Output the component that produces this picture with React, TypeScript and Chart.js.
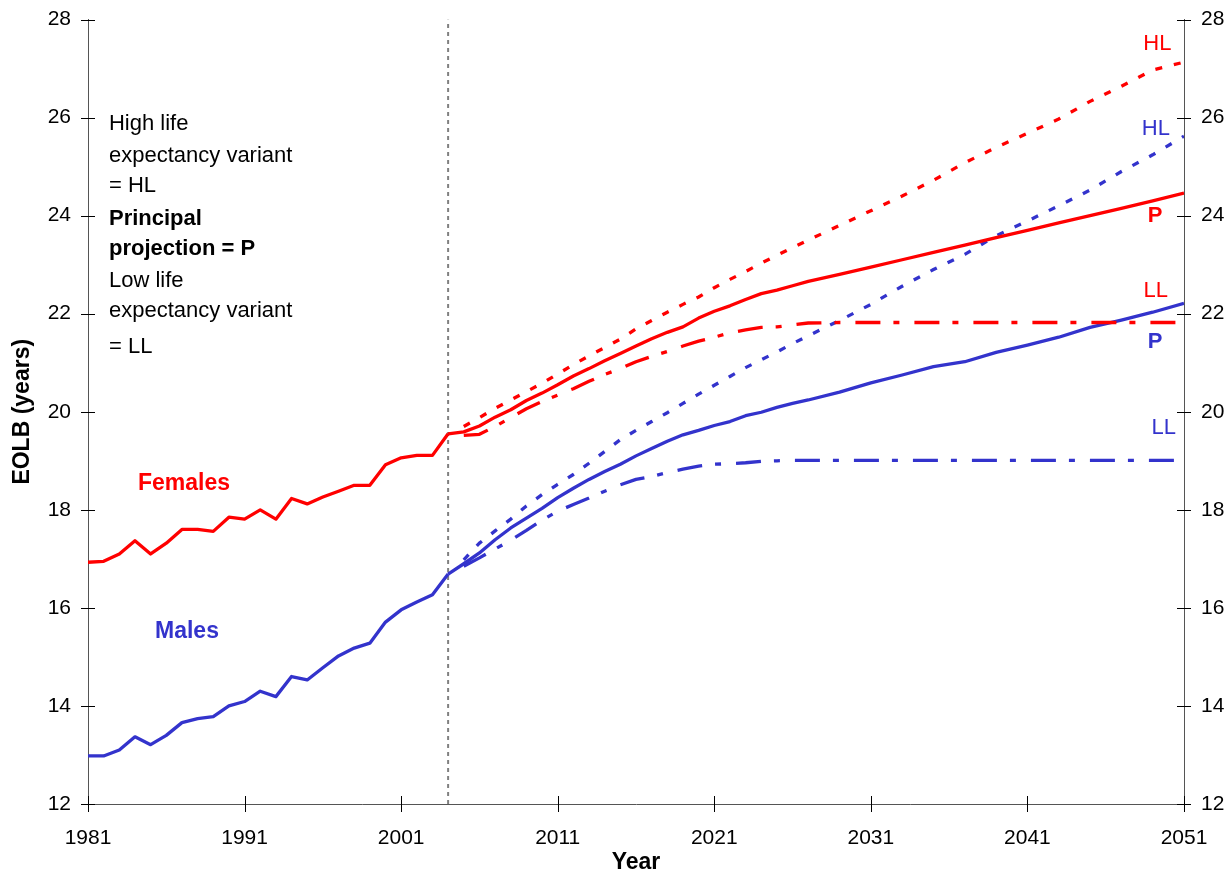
import React, { useEffect, useRef } from "react";
import { Chart, registerables } from "chart.js";

Chart.register(...registerables);

// ---------- data ----------
const HIST_YEARS = [
  1981, 1982, 1983, 1984, 1985, 1986, 1987, 1988, 1989, 1990, 1991, 1992,
  1993, 1994, 1995, 1996, 1997, 1998, 1999, 2000, 2001, 2002, 2003, 2004,
];
const FEMALES_HIST = [
  16.93, 16.95, 17.1, 17.37, 17.1, 17.32, 17.6, 17.6, 17.56, 17.85, 17.81, 18.0,
  17.81, 18.23, 18.12, 18.26, 18.38, 18.5, 18.5, 18.92, 19.06, 19.11, 19.11, 19.55,
];
const MALES_HIST = [
  12.98, 12.98, 13.1, 13.37, 13.21, 13.4, 13.66, 13.74, 13.78, 14.0, 14.09, 14.3,
  14.19, 14.6, 14.53, 14.78, 15.02, 15.18, 15.28, 15.71, 15.96, 16.12, 16.27, 16.69,
];

const PROJ_YEARS = [
  2004, 2005, 2006, 2007, 2008, 2009, 2010, 2011, 2012, 2013, 2014, 2015, 2016,
  2017, 2018, 2019, 2020, 2021, 2022, 2023, 2024, 2025, 2026, 2027, 2029, 2031,
  2033, 2035, 2037, 2039, 2041, 2043, 2045, 2047, 2049, 2051,
];
const FEMALES_P = [
  19.55, 19.59, 19.71, 19.89, 20.04, 20.23, 20.38, 20.55, 20.73, 20.88, 21.04, 21.19, 21.34,
  21.49, 21.62, 21.73, 21.91, 22.05, 22.16, 22.29, 22.41, 22.48, 22.57, 22.66, 22.8, 22.95,
  23.1, 23.25, 23.4, 23.55, 23.7, 23.85, 24.0, 24.15, 24.3, 24.46,
];
const FEMALES_HL = [
  null, 19.7, 19.88, 20.07, 20.24, 20.41, 20.58, 20.77, 20.96, 21.14, 21.31, 21.48, 21.69,
  21.86, 22.03, 22.19, 22.34, 22.53, 22.7, 22.86, 23.03, 23.19, 23.35, 23.5, 23.8, 24.1,
  24.4, 24.72, 25.08, 25.39, 25.68, 25.97, 26.33, 26.64, 26.97, 27.13,
];
const FEMALES_LL = [
  null, 19.52, 19.54, 19.7, 19.88, 20.06, 20.21, 20.34, 20.47, 20.62, 20.76, 20.88, 21.02,
  21.13, 21.23, 21.34, 21.44, 21.52, 21.61, 21.67, 21.72, 21.73, 21.77, 21.81, 21.82, 21.82,
  21.82, 21.82, 21.82, 21.82, 21.82, 21.82, 21.82, 21.82, 21.82, 21.82,
];
const MALES_P = [
  16.69, 16.9, 17.12, 17.39, 17.63, 17.83, 18.03, 18.25, 18.44, 18.62, 18.78, 18.93, 19.1,
  19.25, 19.4, 19.53, 19.62, 19.72, 19.8, 19.92, 19.99, 20.09, 20.17, 20.24, 20.4, 20.59,
  20.75, 20.92, 21.02, 21.21, 21.36, 21.52, 21.72, 21.87, 22.03, 22.21,
];
const MALES_HL = [
  null, 16.98, 17.32, 17.57, 17.81, 18.08, 18.31, 18.52, 18.72, 18.95, 19.19, 19.43, 19.62,
  19.8, 19.98, 20.17, 20.36, 20.54, 20.72, 20.9, 21.06, 21.22, 21.39, 21.55, 21.86, 22.19,
  22.56, 22.9, 23.21, 23.59, 23.89, 24.2, 24.52, 24.9, 25.24, 25.62,
];
const MALES_LL = [
  null, 16.85, 17.02, 17.2, 17.38, 17.58, 17.79, 17.97, 18.11, 18.24, 18.38, 18.51, 18.62,
  18.68, 18.76, 18.83, 18.89, 18.93, 18.94, 18.96, 18.99, 19.0, 19.01, 19.01, 19.01, 19.01,
  19.01, 19.01, 19.01, 19.01, 19.01, 19.01, 19.01, 19.01, 19.01, 19.01,
];

const BASE_YEAR = 2004;
const X_TICKS = [1981, 1991, 2001, 2011, 2021, 2031, 2041, 2051];
const X_MIN = 1981;
const X_MAX = 2051;
const Y_MIN = 12;
const Y_MAX = 28;
const Y_STEP = 2;

const X_TITLE = "Year";
const Y_TITLE = "EOLB (years)";

// ---------- styles ----------
const RED = "#FF0000";
const BLUE = "#3333CC";
const FONT = '"Liberation Sans", Arial, Helvetica, sans-serif';
const DASH_HL = [7, 12];
const DASH_LL = [25, 13, 6, 15];

const pts = (xs: number[], ys: (number | null)[]) =>
  xs.map((x, i) => ({ x, y: ys[i] }));

const tickMarks = {
  id: "tickMarks",
  afterDraw(chart: any) {
    const { ctx, scales, chartArea } = chart;
    ctx.save();
    ctx.strokeStyle = "#000";
    ctx.lineWidth = 1;
    ctx.beginPath();
    scales.x.ticks.forEach((t: any) => {
      const px = Math.round(scales.x.getPixelForValue(t.value)) + 0.5;
      ctx.moveTo(px, chartArea.bottom - 8);
      ctx.lineTo(px, chartArea.bottom + 8);
    });
    scales.y.ticks.forEach((t: any) => {
      const py = Math.round(scales.y.getPixelForValue(t.value)) + 0.5;
      ctx.moveTo(chartArea.left - 7, py);
      ctx.lineTo(chartArea.left + 7, py);
      ctx.moveTo(chartArea.right - 7, py);
      ctx.lineTo(chartArea.right + 7, py);
    });
    ctx.stroke();
    ctx.restore();
  },
};

type Note = { text: string; x: number; y: number; color: string; bold?: boolean; size: number; align: CanvasTextAlign; base: CanvasTextBaseline };

const NOTES: Note[] = [
  { text: "High life", x: 1982.34, y: 25.74, color: "#000", size: 22, align: "left", base: "alphabetic" },
  { text: "expectancy variant", x: 1982.34, y: 25.09, color: "#000", size: 22, align: "left", base: "alphabetic" },
  { text: "= HL", x: 1982.34, y: 24.48, color: "#000", size: 22, align: "left", base: "alphabetic" },
  { text: "Principal", x: 1982.34, y: 23.8, color: "#000", bold: true, size: 22, align: "left", base: "alphabetic" },
  { text: "projection = P", x: 1982.34, y: 23.19, color: "#000", bold: true, size: 22, align: "left", base: "alphabetic" },
  { text: "Low life", x: 1982.34, y: 22.54, color: "#000", size: 22, align: "left", base: "alphabetic" },
  { text: "expectancy variant", x: 1982.34, y: 21.93, color: "#000", size: 22, align: "left", base: "alphabetic" },
  { text: "= LL", x: 1982.34, y: 21.19, color: "#000", size: 22, align: "left", base: "alphabetic" },
  { text: "Females", x: 1984.19, y: 18.53, color: RED, bold: true, size: 23, align: "left", base: "middle" },
  { text: "Males", x: 1985.28, y: 15.51, color: BLUE, bold: true, size: 23, align: "left", base: "middle" },
  { text: "HL", x: 2049.3, y: 27.5, color: RED, size: 22, align: "center", base: "middle" },
  { text: "HL", x: 2049.2, y: 25.77, color: BLUE, size: 22, align: "center", base: "middle" },
  { text: "P", x: 2049.15, y: 23.99, color: RED, bold: true, size: 22, align: "center", base: "middle" },
  { text: "LL", x: 2049.2, y: 22.46, color: RED, size: 22, align: "center", base: "middle" },
  { text: "P", x: 2049.15, y: 21.43, color: BLUE, bold: true, size: 22, align: "center", base: "middle" },
  { text: "LL", x: 2049.7, y: 19.68, color: BLUE, size: 22, align: "center", base: "middle" },
];

const notesPlugin = {
  id: "notes",
  afterDraw(chart: any) {
    const { ctx, scales } = chart;
    ctx.save();
    NOTES.forEach((n) => {
      ctx.font = `${n.bold ? "bold " : ""}${n.size}px ${FONT}`;
      ctx.fillStyle = n.color;
      ctx.textAlign = n.align;
      ctx.textBaseline = n.base;
      ctx.fillText(n.text, scales.x.getPixelForValue(n.x), scales.y.getPixelForValue(n.y));
    });
    ctx.restore();
  },
};

export default function App() {
  const ref = useRef<HTMLCanvasElement | null>(null);

  useEffect(() => {
    if (!ref.current) return;
    const line = (label: string, data: any[], color: string, dash: number[] = []) => ({
      label,
      data,
      borderColor: color,
      backgroundColor: color,
      borderWidth: 3.3,
      borderDash: dash,
      borderCapStyle: "butt",
      borderJoinStyle: "round",
      pointRadius: 0,
      tension: 0,
      fill: false,
      spanGaps: false,
    });

    const tickFont = { family: FONT, size: 21 };
    const yFit = (w: number) => (s: any) => {
      s.width = w;
      s.paddingTop = 0;
      s.paddingBottom = 0;
    };
    const chart = new Chart(ref.current, {
      type: "line",
      data: {
        datasets: [
          line("Females", pts(HIST_YEARS, FEMALES_HIST), RED),
          line("Males", pts(HIST_YEARS, MALES_HIST), BLUE),
          line("Females P", pts(PROJ_YEARS, FEMALES_P), RED),
          line("Females HL", pts(PROJ_YEARS, FEMALES_HL), RED, DASH_HL),
          line("Females LL", pts(PROJ_YEARS, FEMALES_LL), RED, DASH_LL),
          line("Males P", pts(PROJ_YEARS, MALES_P), BLUE),
          line("Males HL", pts(PROJ_YEARS, MALES_HL), BLUE, DASH_HL),
          line("Males LL", pts(PROJ_YEARS, MALES_LL), BLUE, DASH_LL),
          {
            label: "base",
            data: [
              { x: BASE_YEAR, y: Y_MIN },
              { x: BASE_YEAR, y: Y_MAX },
            ],
            borderColor: "#808080",
            borderWidth: 2,
            borderDash: [4, 4],
            pointRadius: 0,
            fill: false,
          },
        ] as any,
      },
      options: {
        responsive: false,
        animation: false,
        devicePixelRatio: 1,
        layout: { padding: { top: 19.5, left: 0, right: 0, bottom: 0 } },
        plugins: {
          legend: { display: false },
          tooltip: { enabled: false },
          title: { display: false },
        },
        scales: {
          x: {
            type: "linear",
            min: X_MIN,
            max: X_MAX,
            afterBuildTicks: (s: any) => {
              s.ticks = X_TICKS.map((v) => ({ value: v }));
            },
            afterFit: (s: any) => {
              s.height = 72;
              s.paddingLeft = 0;
              s.paddingRight = 0;
            },
            grid: { display: false, drawTicks: false },
            border: { display: true, color: "#555", width: 1 },
            ticks: {
              font: tickFont,
              color: "#000",
              padding: 22,
              maxRotation: 0,
              autoSkip: false,
              callback: (v: any) => String(v),
            },
            title: {
              display: true,
              text: X_TITLE,
              font: { family: FONT, size: 23, weight: "bold" },
              color: "#000",
              padding: { top: 0, bottom: 0 },
            },
          },
          y: {
            type: "linear",
            position: "left",
            min: Y_MIN,
            max: Y_MAX,
            afterFit: yFit(88),
            grid: { display: false, drawTicks: false },
            border: { display: true, color: "#555", width: 1 },
            ticks: { stepSize: Y_STEP, font: tickFont, color: "#000", padding: 17 },
            title: {
              display: true,
              text: Y_TITLE,
              font: { family: FONT, size: 23, weight: "bold" },
              color: "#000",
              padding: { top: 9, bottom: 0 },
            },
          },
          y2: {
            type: "linear",
            position: "right",
            min: Y_MIN,
            max: Y_MAX,
            afterFit: yFit(45),
            grid: { display: false, drawTicks: false },
            border: { display: true, color: "#555", width: 1 },
            ticks: { stepSize: Y_STEP, font: tickFont, color: "#000", padding: 17 },
          },
        },
      } as any,
      plugins: [tickMarks, notesPlugin],
    });
    return () => chart.destroy();
  }, []);

  return (
    <div style={{ position: "absolute", left: 0, top: 0, width: 1229, height: 876, background: "#fff" }}>
      <canvas ref={ref} width={1229} height={876} style={{ display: "block" }} />
    </div>
  );
}
